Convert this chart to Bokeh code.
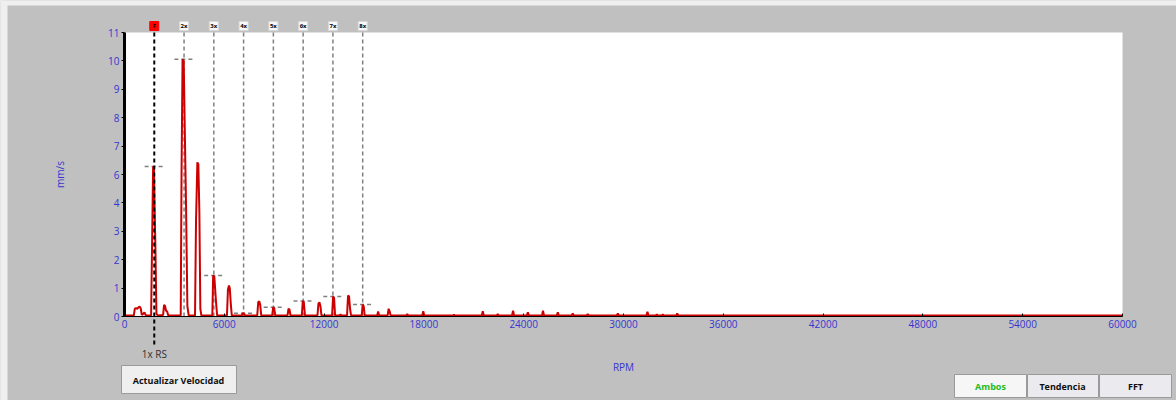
from bokeh.plotting import figure
from bokeh.models import Range1d, FixedTicker
from bokeh.embed import file_html
from bokeh.resources import INLINE
from bokeh.core.properties import value

# ---------------- data ----------------
spectrum_rpm = [
    0, 560, 620, 700, 780, 840, 920, 980, 1040, 1120, 1200, 1260, 1320,
    1600, 1660, 1720, 1770, 1810, 1860, 1920, 2000,
    2320, 2380, 2440, 2500, 2560, 2620, 2700,
    3380, 3430, 3490, 3560, 3620, 3700, 3780, 3860,
    4240, 4300, 4380, 4440, 4500, 4560, 4620,
    5280, 5330, 5400, 5450, 5510, 5570,
    6160, 6220, 6280, 6330, 6390, 6450,
    7060, 7110, 7180, 7240,
    7980, 8040, 8100, 8160, 8220,
    8880, 8940, 9000, 9060,
    9800, 9860, 9920, 9980,
    10660, 10720, 10780, 10850,
    11600, 11660, 11720, 11780, 11840,
    12480, 12540, 12600, 12660,
    12940, 12990, 13040,
    13380, 13440, 13500, 13560, 13620,
    14260, 14320, 14380, 14440,
    15190, 15250, 15310,
    15820, 15880, 15940, 16000,
    16940, 17000, 17060,
    17900, 17960, 18020,
    19760, 19810, 19860,
    21480, 21540, 21600,
    22380, 22440, 22500,
    23300, 23360, 23420,
    24190, 24250, 24310,
    25100, 25160, 25220,
    25990, 26050, 26110,
    26890, 26950, 27010,
    27790, 27850, 27910,
    29600, 29660, 29720,
    31380, 31440, 31500,
    31940, 32000, 32060,
    32300, 32360, 32420,
    33170, 33230, 33290,
    60000,
]
spectrum_mms = [
    0.04, 0.04, 0.30, 0.32, 0.30, 0.36, 0.38, 0.30, 0.06, 0.10, 0.16, 0.06, 0.04,
    0.04, 2.90, 5.81, 5.70, 4.20, 2.60, 0.10, 0.04,
    0.06, 0.45, 0.40, 0.22, 0.20, 0.06, 0.04,
    0.04, 5.60, 9.96, 9.90, 7.40, 4.30, 0.40, 0.04,
    0.04, 3.70, 5.97, 5.90, 4.10, 0.30, 0.04,
    0.04, 1.59, 1.55, 1.05, 0.50, 0.04,
    0.04, 1.05, 1.20, 1.10, 0.50, 0.04,
    0.04, 0.13, 0.12, 0.04,
    0.04, 0.55, 0.59, 0.45, 0.04,
    0.04, 0.36, 0.33, 0.04,
    0.04, 0.30, 0.27, 0.04,
    0.04, 0.60, 0.56, 0.04,
    0.04, 0.50, 0.55, 0.40, 0.04,
    0.04, 0.77, 0.72, 0.04,
    0.04, 0.08, 0.04,
    0.04, 0.81, 0.78, 0.30, 0.04,
    0.04, 0.46, 0.40, 0.04,
    0.04, 0.19, 0.04,
    0.04, 0.30, 0.20, 0.04,
    0.04, 0.10, 0.04,
    0.04, 0.20, 0.04,
    0.04, 0.07, 0.04,
    0.04, 0.20, 0.04,
    0.04, 0.10, 0.04,
    0.04, 0.22, 0.04,
    0.04, 0.16, 0.04,
    0.04, 0.22, 0.04,
    0.04, 0.16, 0.04,
    0.04, 0.12, 0.04,
    0.04, 0.09, 0.04,
    0.04, 0.12, 0.04,
    0.04, 0.18, 0.04,
    0.04, 0.08, 0.04,
    0.04, 0.08, 0.04,
    0.04, 0.12, 0.04,
    0.04,
]

running_speed_rpm = 1790
harmonic_orders = [1, 2, 3, 4, 5, 6, 7, 8]
harmonic_labels = ["F", "2x", "3x", "4x", "5x", "6x", "7x", "8x"]
harmonic_amps = [5.81, 9.96, 1.59, 0.13, 0.36, 0.60, 0.77, 0.46]

x_min, x_max = 0, 60000
y_min, y_max = 0, 11
x_ticks = [0, 6000, 12000, 18000, 24000, 30000, 36000, 42000, 48000, 54000, 60000]
y_ticks = [0, 1.1, 2.2, 3.3, 4.4, 5.5, 6.6, 7.7, 8.8, 9.9, 11]
y_tick_labels = ["0", "1", "2", "3", "4", "6", "7", "8", "9", "10", "11"]

button_texts = ["Actualizar Velocidad", "Ambos", "Tendencia", "FFT"]

# ---------------- layout (page pixels) ----------------
W, H = 1176, 400
PLOT_L, PLOT_R, PLOT_T, PLOT_B = 124, 1122, 32, 316
KX = (PLOT_R - PLOT_L) / (x_max - x_min)
KY = (PLOT_B - PLOT_T) / (y_max - y_min)


def dx(px):
    return x_min + (px - PLOT_L) / KX


def dy(py):
    return y_min + (PLOT_B - py) / KY


FONT = "Open Sans"
BLUE = "#3535d0"
RED = "#cc0000"
GREY_BG = "#c0c0c0"

p = figure(width=W, height=H, x_range=Range1d(dx(0), dx(W)), y_range=Range1d(dy(H), dy(0)),
           output_backend="svg", toolbar_location=None,
           min_border_left=0, min_border_right=0, min_border_top=0, min_border_bottom=0)
p.background_fill_color = GREY_BG
p.border_fill_color = GREY_BG
p.outline_line_color = None
p.grid.visible = False

# light window margin strip
p.quad(left=[dx(0), dx(0)], right=[dx(7), dx(W)], bottom=[dy(H), dy(5)], top=[dy(0), dy(0)],
       fill_color="#efefef", line_color=None)

# white plot area
p.quad(left=[x_min], right=[x_max], bottom=[y_min], top=[y_max], fill_color="white", line_color=None)

# axes (library axes, pinned to the plot area)
p.xaxis.ticker = FixedTicker(ticks=x_ticks)
p.yaxis.ticker = FixedTicker(ticks=y_ticks)
p.yaxis.major_label_overrides = dict(zip(y_ticks, y_tick_labels))
p.xaxis.fixed_location = y_min
p.yaxis.fixed_location = x_min
p.xaxis.bounds = (x_min, x_max)
p.yaxis.bounds = (y_min, y_max)
for ax in (p.xaxis[0], p.yaxis[0]):
    ax.axis_line_color = "black"
    ax.major_tick_line_color = "black"
    ax.minor_tick_line_color = None
    ax.major_label_text_color = BLUE
    ax.major_label_text_font = FONT
    ax.major_label_text_font_size = "10px"
    ax.axis_label_text_color = BLUE
    ax.axis_label_text_font = FONT
    ax.axis_label_text_font_size = "10px"
    ax.axis_label_text_font_style = "normal"

p.yaxis.axis_line_width = 3
p.yaxis.major_tick_out = 3
p.yaxis.major_tick_in = 0
p.yaxis.major_label_standoff = 2
p.yaxis.axis_label = "mm/s"
p.yaxis.axis_label_standoff = 38

p.xaxis.axis_line_width = 1
p.xaxis.major_tick_out = 0
p.xaxis.major_tick_in = 3
p.xaxis.major_label_standoff = 3
p.xaxis.axis_label = "RPM"
p.xaxis.axis_label_standoff = 29

# harmonic vertical lines (2x..8x grey)
harm_x = [running_speed_rpm * k for k in harmonic_orders]
n_h = len(harm_x)
p.segment(x0=harm_x[1:], y0=[y_min] * (n_h - 1), x1=harm_x[1:], y1=[y_max] * (n_h - 1),
          line_color="#808080", line_width=1.5, line_dash="4 3")

# horizontal amplitude markers at each harmonic
half_w = 580
p.segment(x0=[h - half_w for h in harm_x], y0=harmonic_amps,
          x1=[h + half_w for h in harm_x], y1=harmonic_amps,
          line_color="#808080", line_width=1.5, line_dash="4 3")

# spectrum
p.line(spectrum_rpm, spectrum_mms, line_color=RED, line_width=2)

# 1x line (black, extends below the axis) + caption
p.segment(x0=[harm_x[0]], y0=[y_max], x1=[harm_x[0]], y1=[dy(346)],
          line_color="black", line_width=2, line_dash="4 3")
p.text(x=[harm_x[0]], y=[dy(353)], text=["1x RS"], text_align="center", text_baseline="middle",
       text_font=value(FONT), text_font_size="10px", text_color="#303030")

# harmonic tags above the plot
tag_fill = ["#ff0000" if lab == "F" else "#f8f8f8" for lab in harmonic_labels]
tag_line = ["#ff0000" if lab == "F" else "#d8d8d8" for lab in harmonic_labels]
p.rect(x=harm_x, y=[dy(25.5)] * n_h, width=9, height=9, width_units="screen", height_units="screen",
       fill_color=tag_fill, line_color=tag_line)
p.text(x=harm_x, y=[dy(25.5)] * n_h, text=harmonic_labels, text_align="center", text_baseline="middle",
       text_font=value(FONT), text_font_size="6px", text_font_style="bold", text_color="black")

# buttons
btn_px = [(121, 236, 365, 393), (954, 1026, 374, 397), (1027, 1098, 374, 397), (1099, 1171, 374, 397)]
btn_text_px = [(178, 380), (990, 386), (1062, 386), (1135, 386)]
btn_fill = ["#efefef", "#f6f6f6", "#ebebef", "#ebebef"]
btn_text_col = ["#101010", "#22bb22", "#101010", "#101010"]
p.quad(left=[dx(b[0]) for b in btn_px], right=[dx(b[1]) for b in btn_px],
       top=[dy(b[2]) for b in btn_px], bottom=[dy(b[3]) for b in btn_px],
       fill_color=btn_fill, line_color="#9a9a9a", line_width=1)
p.text(x=[dx(t[0]) for t in btn_text_px], y=[dy(t[1]) for t in btn_text_px], text=button_texts,
       text_align="center", text_baseline="middle", text_font=value(FONT), text_font_size="9px",
       text_font_style="bold", text_color=btn_text_col)

open("out.html", "w").write(file_html(p, INLINE))
